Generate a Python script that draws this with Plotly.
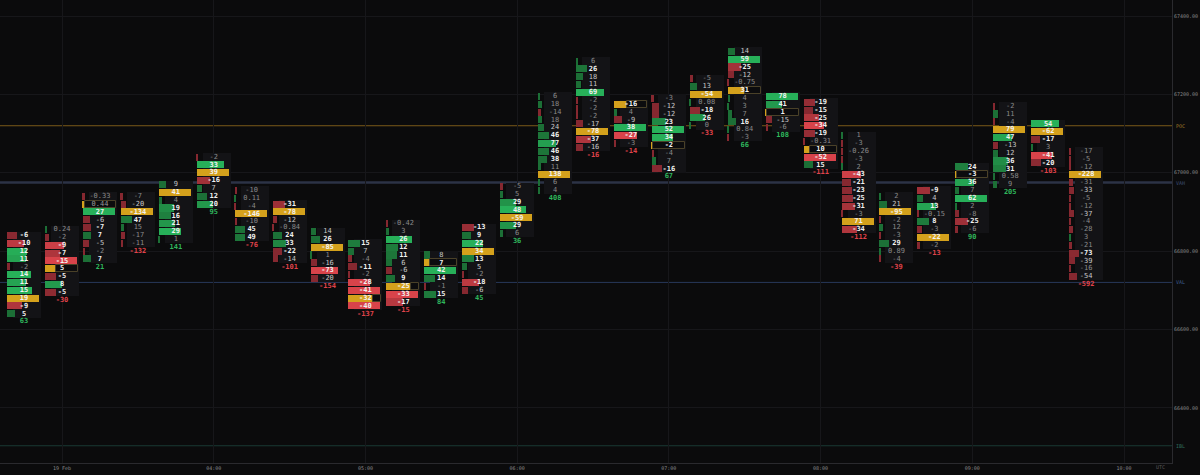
import plotly.graph_objects as go

# ---------------- data ----------------
times = ["02:45", "03:00", "03:15", "03:30", "03:45", "04:00", "04:15", "04:30", "04:45",
         "05:00", "05:15", "05:30", "05:45", "06:00", "06:15", "06:30", "06:45", "07:00",
         "07:15", "07:30", "07:45", "08:00", "08:15", "08:30", "08:45", "09:00", "09:15",
         "09:30", "09:45"]
top_price = [66840, 66855, 66940, 66940, 66970, 67040, 66955, 66920, 66850,
             66820, 66870, 66790, 66860, 66965, 67195, 67285, 67175, 67190,
             67240, 67310, 67195, 67180, 67095, 66940, 66955, 67015, 67170,
             67125, 67055]
row_delta = [
    [-6, -10, 12, 11, -2, 14, 11, 15, 19, -9, 5],
    [0.24, -2, -9, -7, -15, 5, -5, 8, -5],
    [-0.33, 0.44, 27, -6, -7, 7, -5, -2, 7],
    [-7, -20, -134, 47, 15, -17, -11],
    [9, 41, 4, 19, 16, 21, 29, 1],
    [-2, 33, 39, -16, 7, 12, 20],
    [-10, 0.11, -4, -146, -10, 45, 49],
    [-31, -78, -12, -0.84, 24, 33, -22, -14],
    [14, 26, -85, 1, -16, -73, -20],
    [15, 7, -4, -11, -2, -28, -41, -32, -40],
    [-0.42, 3, 26, 12, 11, 6, -6, 9, -25, -33, -17],
    [8, 7, 42, 14, -1, 15],
    [-13, 9, 22, 34, 13, 5, -2, -18, -6],
    [-5, 5, 29, 48, -59, 29, 6],
    [6, 18, -14, 18, 24, 46, 77, 46, 38, 11, 138, 6, 4],
    [6, 26, 18, 11, 69, -2, -2, -2, -17, -78, -37, -16],
    [-16, 4, -9, 38, -27, -3],
    [-3, -12, -12, 23, 52, 34, -2, -4, 7, -16],
    [-5, 13, -54, 0.08, -18, 26, 0],
    [14, 59, -25, -12, -0.75, 31, 4, 3, 7, 16, 0.84, -3],
    [78, 41, 1, -15, -6],
    [-19, -15, -25, -34, -19, -0.31, 10, -52, 15],
    [1, -3, -0.26, -3, 2, -43, -21, -23, -25, -31, -3, 71, -34],
    [2, 21, -95, -2, 12, -3, 29, 0.89, -4],
    [-9, 4, 13, -0.15, 8, -3, -22, -2],
    [24, -3, 36, 7, 62, 2, -8, -25, -6],
    [-2, 11, -4, 79, 47, -13, 12, 36, 31, 0.58, 9],
    [54, -62, -17, 3, -41, -20],
    [-17, -5, -12, -228, -31, -33, -5, -12, -37, -4, -28, 3, -21, -73, -39, -16, -54],
]
poc_row = [8, 5, 1, 2, 1, 2, 3, 1, 2, 7, 8, 1, 3, 4, 10, 9, 0, 6, 2, 5, 2, 6, 11, 2, 6, 1, 3, 1, 3]
total_delta = [63, -30, 21, -132, 141, 95, -76, -101, -154, -137, -15, 84, 45, 36, 408, -16,
               -14, 67, -33, 66, 108, -111, -112, -39, -13, 90, 205, -103, -592]
tick_size = 20

x_tick_times = ["03:00", "04:00", "05:00", "06:00", "07:00", "08:00", "09:00", "10:00"]
x_tick_text = ["19 Feb", "04:00", "05:00", "06:00", "07:00", "08:00", "09:00", "10:00"]
price_ticks = [66400, 66600, 66800, 67000, 67200, 67400]
level_names = ["POC", "VAH", "VAL", "IBL"]
level_prices = [67120, 66975, 66720, 66303]

# ---------------- styling helpers ----------------
FONT = "DejaVu Sans Mono"
BG = "#0b0b0c"
K = 420.0 / 1062.0          # minutes per pixel on the time axis


def tmin(s):
    h, m = map(int, s.split(":"))
    return h * 60 + m - 180


def hex2rgb(h):
    h = h.lstrip("#")
    return tuple(int(h[i:i + 2], 16) for i in (0, 2, 4))


def mix(c1, c2, t):
    a, b = hex2rgb(c1), hex2rgb(c2)
    return "rgb(%d,%d,%d)" % tuple(round(a[i] + (b[i] - a[i]) * t) for i in range(3))


def fmt(v):
    if float(v).is_integer():
        return str(int(v))
    return ("%.2f" % v)


G_DARK, G_BRIGHT = "#1c6f36", "#27b059"
R_DARK, R_BRIGHT = "#862830", "#d8434a"
GOLD = "#d4a11c"

bar_y, bar_x, bar_base, bar_col = [], [], [], []
pan_y, pan_x, pan_base, pan_w = [], [], [], []
box_y, box_x, box_base = [], [], []
txt_x, txt_y, txt_t, txt_c = [], [], [], []
tot_x, tot_y, tot_t, tot_c = [], [], [], []

for i, t in enumerate(times):
    c = tmin(t)
    d = row_delta[i]
    n = len(d)
    mx = max(abs(v) for v in d)
    left = c - 17 * K
    pan_y.append(top_price[i] - tick_size * (n - 1) / 2)
    pan_w.append(tick_size * n)
    pan_base.append(c - 11 * K)
    pan_x.append(28 * K)
    for j, v in enumerate(d):
        p = top_price[i] - tick_size * j
        r = abs(v) / mx
        lpx = max(32 * r, 1.6)
        bar_y.append(p)
        bar_x.append(lpx * K)
        bar_base.append(left)
        tt = min(max((r - 0.3) / 0.35, 0), 1)
        if j == poc_row[i]:
            col = GOLD
            if 33 - lpx > 2:
                box_y.append(p)
                box_base.append(left + lpx * K)
                box_x.append((33 - lpx) * K)
        elif v >= 0:
            col = mix(G_DARK, G_BRIGHT, tt)
        else:
            col = mix(R_DARK, R_BRIGHT, tt)
        bar_col.append(col)
        s = fmt(v)
        if j == poc_row[i] or r >= 0.25:
            if float(v).is_integer():
                s = "<b>" + s + "</b>"
                tc = "#f2f2f2"
            else:
                tc = "#9a9a9a"
        elif r >= 0.14 and float(v).is_integer():
            tc = "#c8c8c8"
        else:
            tc = "#8a8a8a"
        txt_x.append(c)
        txt_y.append(p)
        txt_t.append(s)
        txt_c.append(tc)
    tot_x.append(c)
    tot_y.append(top_price[i] - tick_size * n)
    tot_t.append("<b>" + fmt(total_delta[i]) + "</b>")
    tot_c.append("#2fb75c" if total_delta[i] >= 0 else "#e0434b")

fig = go.Figure()
fig.add_trace(go.Bar(orientation="h", y=pan_y, x=pan_x, base=pan_base, width=pan_w,
                     marker=dict(color="#131316", line=dict(width=0)), hoverinfo="skip"))
fig.add_trace(go.Bar(orientation="h", y=bar_y, x=bar_x, base=bar_base, width=tick_size * 0.9,
                     marker=dict(color=bar_col, line=dict(width=0)), hoverinfo="skip"))
fig.add_trace(go.Bar(orientation="h", y=box_y, x=box_x, base=box_base, width=tick_size * 0.9,
                     marker=dict(color="#0c0c0e", line=dict(width=1, color="#4a4128")),
                     hoverinfo="skip"))
fig.add_trace(go.Scatter(x=txt_x, y=txt_y, mode="text", text=txt_t,
                         textfont=dict(family=FONT, size=7, color=txt_c), hoverinfo="skip"))
fig.add_trace(go.Scatter(x=tot_x, y=tot_y, mode="text", text=tot_t,
                         textfont=dict(family=FONT, size=7, color=tot_c), hoverinfo="skip"))

level_style = {"POC": ("#7a5a1a", 1, "#a07828"),
               "VAH": ("#2c3346", 2.5, "#3c4c70"),
               "VAL": ("#27385a", 1, "#3c5a8a"),
               "IBL": ("#1a3a33", 1, "#2f6a5a")}
for name, price in zip(level_names, level_prices):
    lc, lw, tc = level_style[name]
    fig.add_shape(type="line", xref="paper", x0=0, x1=1, yref="y", y0=price, y1=price,
                  line=dict(color=lc, width=lw), layer="below")
    fig.add_annotation(xref="paper", x=1.002, xanchor="left", yref="y", y=price,
                       text=name, showarrow=False, font=dict(family=FONT, size=5, color=tc))

fig.add_annotation(xref="paper", x=0.995, xanchor="right", yref="paper", y=-0.0095,
                   yanchor="middle", text="UTC", showarrow=False, borderpad=0,
                   font=dict(family=FONT, size=5, color="#5a5a5a"))

fig.update_layout(
    width=1200, height=475,
    margin=dict(l=0, r=28, t=0, b=12),
    paper_bgcolor=BG, plot_bgcolor=BG,
    barmode="overlay", bargap=0, showlegend=False,
    font=dict(family=FONT, color="#8a8a8a"),
    xaxis=dict(range=[-62 * K, (1172 - 62) * K], tickvals=[tmin(s) for s in x_tick_times],
               ticktext=x_tick_text, showgrid=True, gridcolor="#17171a", gridwidth=1,
               zeroline=False, showline=True, linecolor="#2a2a2e", ticks="",
               tickfont=dict(family=FONT, size=5, color="#8a8a8a")),
    yaxis=dict(range=[66259, 67441], side="right", tickvals=price_ticks,
               ticktext=["%.2f" % p for p in price_ticks], showgrid=True,
               gridcolor="#17171a", gridwidth=1, zeroline=False, showline=True,
               linecolor="#2a2a2e", ticks="", tickfont=dict(family=FONT, size=5, color="#8a8a8a")),
)

fig.write_html("out.html", config={"displayModeBar": False},
               post_script="document.body.style.margin='0px';document.body.style.overflow='hidden';"
                           "document.body.style.background='%s';" % BG)
